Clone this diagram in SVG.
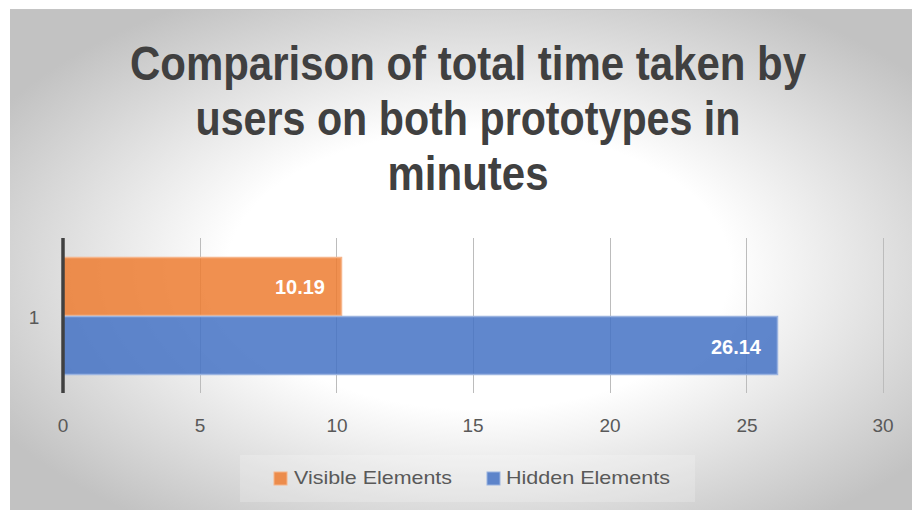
<svg xmlns="http://www.w3.org/2000/svg" width="912" height="510" viewBox="0 0 912 510">
  <defs>
    <radialGradient id="bg" cx="0.52" cy="0.52" r="0.62" gradientUnits="objectBoundingBox">
      <stop offset="0" stop-color="#ffffff"/>
      <stop offset="0.45" stop-color="#ffffff"/>
      <stop offset="1" stop-color="#c2c2c2"/>
    </radialGradient>
    <style>
      .title { font-family: "Liberation Sans", Arial, sans-serif; font-weight: bold; font-size: 48px; fill: #404040; text-anchor: middle; }
      .grid { stroke: #bcbcbc; stroke-width: 1; }
      .tick { font-family: "Liberation Sans", Arial, sans-serif; font-size: 19px; fill: #595959; text-anchor: middle; }
      .val { font-family: "Liberation Sans", Arial, sans-serif; font-weight: bold; font-size: 20px; fill: #ffffff; text-anchor: end; }
      .leg { font-family: "Liberation Sans", Arial, sans-serif; font-size: 19px; fill: #595959; }
    </style>
  </defs>

  <rect x="0" y="0" width="912" height="510" fill="#ffffff"/>
  <rect x="10" y="9" width="902" height="501" fill="url(#bg)"/>
  <line x1="10" y1="9.5" x2="912" y2="9.5" stroke="#c4c4c4" stroke-width="1"/>

  <!-- chart title -->
  <g id="title">
    <text class="title" x="468" y="80" textLength="676" lengthAdjust="spacingAndGlyphs">Comparison of total time taken by</text>
    <text class="title" x="468" y="135" textLength="545" lengthAdjust="spacingAndGlyphs">users on both prototypes in</text>
    <text class="title" x="468" y="190" textLength="161" lengthAdjust="spacingAndGlyphs">minutes</text>
  </g>

  <!-- vertical gridlines, 0..30 step 5 -->
  <g id="gridlines">
    <line class="grid" x1="200.5" y1="238" x2="200.5" y2="393"/>
    <line class="grid" x1="336.5" y1="238" x2="336.5" y2="393"/>
    <line class="grid" x1="473.5" y1="238" x2="473.5" y2="393"/>
    <line class="grid" x1="610.5" y1="238" x2="610.5" y2="393"/>
    <line class="grid" x1="746.5" y1="238" x2="746.5" y2="393"/>
    <line class="grid" x1="883.5" y1="238" x2="883.5" y2="393"/>
  </g>

  <!-- data bars -->
  <g id="bar-visible">
    <rect x="63" y="257.5" width="278.5" height="58" fill="#ed7d31" fill-opacity="0.85" stroke="#f6b58a" stroke-width="1.5"/>
    <text class="val" x="325" y="294">10.19</text>
  </g>
  <g id="bar-hidden">
    <rect x="63" y="316.5" width="714.5" height="58" fill="#4472c4" fill-opacity="0.85" stroke="#9ab3e0" stroke-width="1.5"/>
    <text class="val" x="761" y="354">26.14</text>
  </g>

  <!-- value axis line -->
  <g id="axis">
    <line x1="63" y1="238" x2="63" y2="393" stroke="#404040" stroke-width="3.5"/>
  </g>

  <!-- axis labels -->
  <g id="axis-labels">
    <text class="tick" x="34" y="324">1</text>
    <text class="tick" x="63" y="432">0</text>
    <text class="tick" x="200" y="432">5</text>
    <text class="tick" x="337" y="432">10</text>
    <text class="tick" x="473" y="432">15</text>
    <text class="tick" x="610" y="432">20</text>
    <text class="tick" x="747" y="432">25</text>
    <text class="tick" x="883" y="432">30</text>
  </g>

  <!-- legend -->
  <g id="legend">
    <rect x="240" y="455" width="455" height="47" fill="#ffffff" fill-opacity="0.2"/>
    <rect x="274" y="472" width="13" height="13" fill="#ed7d31" fill-opacity="0.85" stroke="#f6b58a" stroke-width="1"/>
    <text class="leg" x="294" y="484" textLength="158" lengthAdjust="spacingAndGlyphs">Visible Elements</text>
    <rect x="487" y="472" width="13" height="13" fill="#4472c4" fill-opacity="0.85" stroke="#9ab3e0" stroke-width="1"/>
    <text class="leg" x="506" y="484" textLength="164" lengthAdjust="spacingAndGlyphs">Hidden Elements</text>
  </g>
</svg>
